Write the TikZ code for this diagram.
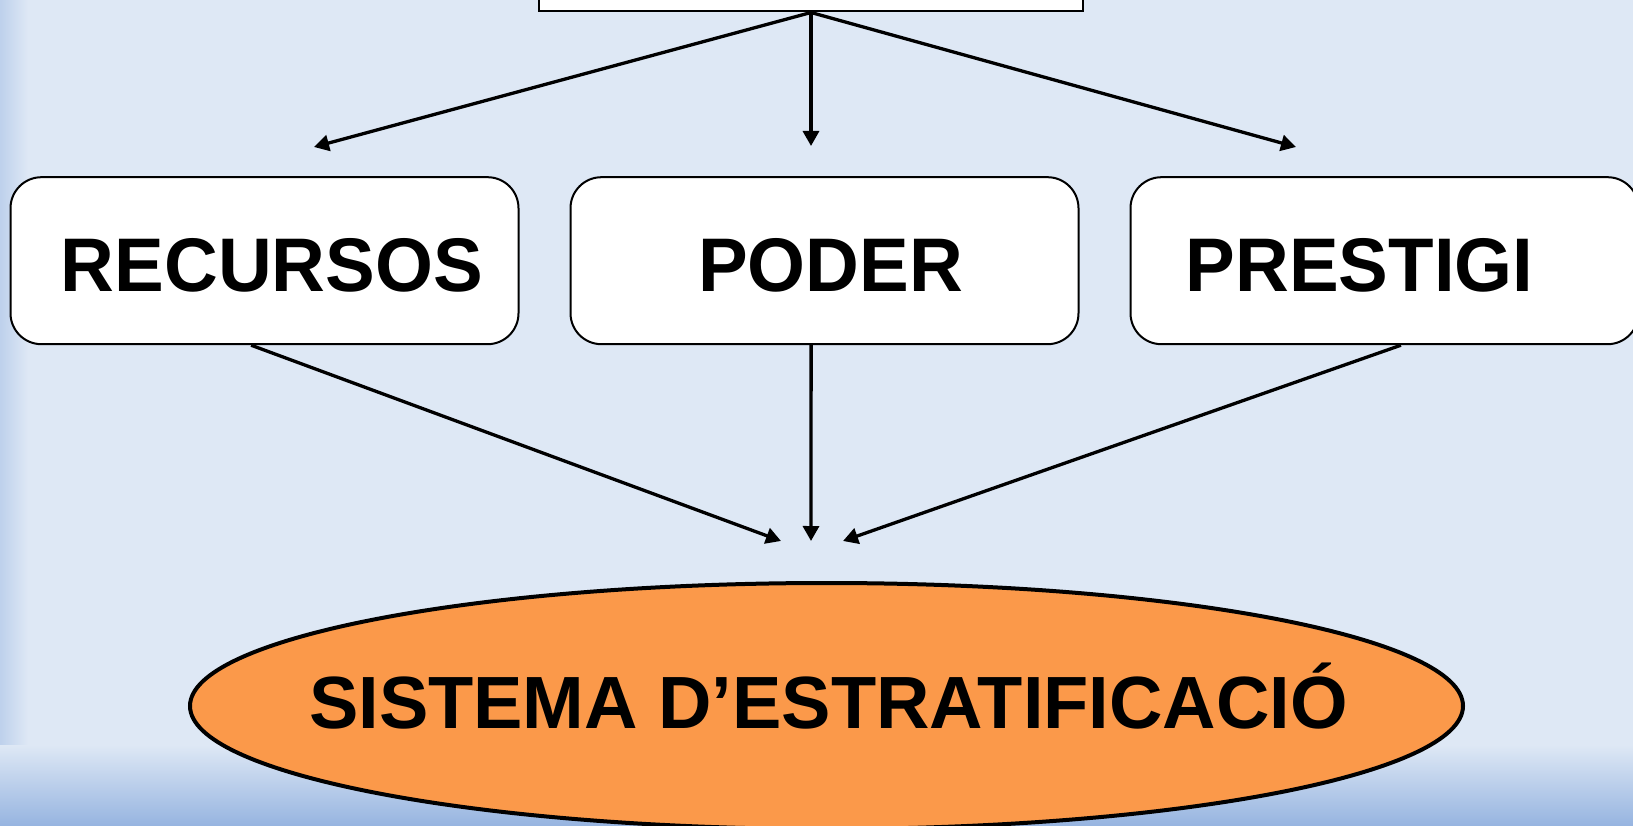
\documentclass[tikz,border=0pt]{standalone}
\usepackage{fontspec}
\setmainfont{Liberation Sans}
\newfontfamily\caixafont[FakeStretch=0.98]{Liberation Sans}
\usetikzlibrary{arrows.meta,positioning,shapes.geometric}
\definecolor{fons}{RGB}{222,232,245}
\definecolor{fonsfosc}{RGB}{150,180,224}
\definecolor{taronja}{RGB}{251,153,74}
\tikzset{
	arrel/.style={draw,fill=white,line width=2pt,sharp corners,
		minimum width=544pt,minimum height=120pt,inner sep=0pt},
	concepte/.style={draw,fill=white,line width=2pt,rounded corners=31pt,
		minimum width=508pt,minimum height=167pt,inner sep=0pt,
		text height=61pt,text depth=0pt,
		font=\caixafont\fontsize{76}{80}\selectfont\bfseries},
	sistema/.style={ellipse,draw,fill=taronja,line width=4pt,
		minimum width=1273pt,minimum height=246pt,inner sep=0pt},
	lema/.style={inner sep=0pt,text height=52pt,text depth=0pt,
		font=\fontsize{74}{80}\selectfont\bfseries},
	fl/.style={line width=3.3pt,-{Triangle[length=15pt,width=16pt]}}
}

\begin{document}
\begin{tikzpicture}[x=1pt,y=-1pt]
   \clip (0,0) rectangle (1633,826);
   \fill[fons] (0,0) rectangle (1633,826);
   \shade[left color=fonsfosc!45!fons,right color=fons] (0,0) rectangle (28,745);
   \shade[top color=fons,bottom color=fonsfosc] (0,745) rectangle (1633,826);
   \node[arrel] (base) at (811,-48.5) {};
   \node[concepte] (recursos) at (264.5,260.7) {\kern15pt RECURSOS};
   \node[concepte,right=50pt of recursos] (poder) {\kern12pt PODER};
   \node[concepte,right=50pt of poder] (prestigi) {PRESTIGI\kern50pt};
   \node[sistema] (sistema) at (826.5,706) {};
   \node[lema] (lema) at (828.5,702) {SISTEMA D’ESTRATIFICACIÓ};
   \coordinate (recursos tip) at (314,147);
   \coordinate (poder tip) at (811,146);
   \coordinate (prestigi tip) at (1296,147);
   \coordinate (sistema left) at (781,541);
   \coordinate (sistema mid) at (811,541);
   \coordinate (sistema right) at (843,541);
   \draw[fl] (base.south) -- (recursos tip);
   \draw[fl] (base.south) -- (poder tip);
   \draw[fl] (base.south) -- (prestigi tip);
   \draw[fl] (recursos.261.5) -- (sistema left);
   \draw[fl] (poder.261) -- (sistema mid);
   \draw[fl] (prestigi.281.5) -- (sistema right);
\end{tikzpicture}
\end{document}
